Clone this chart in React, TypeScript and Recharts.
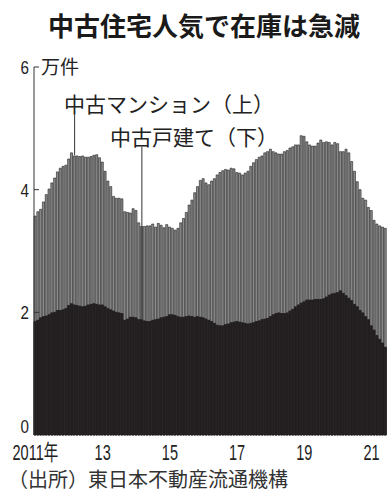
import React from 'react';
import { BarChart, Bar, XAxis, YAxis, ReferenceLine } from 'recharts';

// 首都圏の在庫件数（万件）、2011年1月〜2021年6月の月次
const startYear = 2011;
const monthCount = 126;

const mansionStock = [
  3.57, 3.64, 3.68, 3.80, 3.92, 4.01, 4.11, 4.19, 4.29, 4.35, 4.38, 4.40,
  4.50, 4.60, 4.55, 4.55, 4.54, 4.55, 4.53, 4.53, 4.54, 4.56, 4.57, 4.52,
  4.45, 4.30, 4.14, 4.05, 3.89, 3.86, 3.86, 3.85, 3.64, 3.63, 3.62, 3.69,
  3.66, 3.46, 3.40, 3.40, 3.41, 3.41, 3.44, 3.39, 3.45, 3.42, 3.38, 3.43,
  3.39, 3.37, 3.34, 3.37, 3.46, 3.53, 3.63, 3.75, 3.83, 3.95, 4.05, 4.15,
  4.18, 4.11, 4.08, 4.14, 4.18, 4.24, 4.28, 4.31, 4.33, 4.32, 4.35, 4.34,
  4.28, 4.27, 4.24, 4.27, 4.30, 4.38, 4.44, 4.49, 4.53, 4.55, 4.60, 4.62,
  4.66, 4.62, 4.60, 4.58, 4.58, 4.62, 4.64, 4.68, 4.70, 4.73, 4.73, 4.88,
  4.87, 4.78, 4.73, 4.71, 4.71, 4.76, 4.81, 4.77, 4.78, 4.77, 4.73, 4.77,
  4.75, 4.62, 4.62, 4.66, 4.60, 4.46, 4.30, 4.13, 4.00, 3.86, 3.83, 3.71,
  3.66, 3.50, 3.44, 3.41, 3.39, 3.37,
];

const houseStock = [
  1.85, 1.87, 1.91, 1.93, 1.94, 1.96, 1.99, 2.00, 2.03, 2.03, 2.04, 2.06,
  2.11, 2.14, 2.12, 2.11, 2.10, 2.09, 2.10, 2.12, 2.13, 2.14, 2.13, 2.12,
  2.12, 2.09, 2.06, 2.04, 2.02, 2.00, 1.99, 1.98, 1.87, 1.89, 1.92, 1.92,
  1.91, 1.88, 1.88, 1.86, 1.85, 1.85, 1.87, 1.88, 1.89, 1.91, 1.92, 1.93,
  1.96, 1.96, 1.95, 1.93, 1.92, 1.92, 1.93, 1.94, 1.93, 1.92, 1.93, 1.92,
  1.91, 1.89, 1.87, 1.85, 1.82, 1.79, 1.78, 1.78, 1.80, 1.81, 1.83, 1.84,
  1.85, 1.84, 1.83, 1.82, 1.81, 1.82, 1.83, 1.85, 1.86, 1.88, 1.89, 1.90,
  1.93, 1.96, 1.98, 1.99, 1.98, 1.98, 1.99, 2.02, 2.05, 2.09, 2.12, 2.15,
  2.17, 2.20, 2.20, 2.20, 2.21, 2.21, 2.21, 2.22, 2.25, 2.28, 2.30, 2.31,
  2.32, 2.35, 2.31, 2.27, 2.23, 2.19, 2.13, 2.09, 2.03, 1.99, 1.93, 1.88,
  1.78, 1.71, 1.62, 1.56, 1.50, 1.43,
];

const months: string[] = [];
for (let i = 0; i < monthCount; i++) {
  const y = startYear + Math.floor(i / 12);
  const m = (i % 12) + 1;
  months.push(`${y}-${m < 10 ? '0' + m : m}`);
}

const xTicks = ['2011-01', '2013-01', '2015-01', '2017-01', '2019-01', '2021-01'];
const xTickLabels = ['2011年', '13', '15', '17', '19', '21'];
const yTicks = [0, 2, 4, 6];

// 注記の引き出し線（月、下端、上端）
const mansionNote = { month: '2012-03', from: 4.56, to: 5.22 };
const houseNote = { month: '2014-03', from: 1.88, to: 4.70 };

const data = months.map((month, i) => ({
  month,
  mansion: mansionStock[i],
  house: houseStock[i],
}));

const XTick = (props: any) => {
  const { x, y, payload } = props;
  const label = xTickLabels[xTicks.indexOf(payload.value)];
  return (
    <g transform={`translate(${x},${y}) scale(0.66,1)`}>
      <text x={0} y={25} textAnchor="middle" fontSize={22} fill="#222"
        fontFamily="'Liberation Sans', 'Noto Sans CJK JP', sans-serif">
        {label}
      </text>
    </g>
  );
};

const YTick = (props: any) => {
  const { x, y, payload } = props;
  const v = payload.value;
  return (
    <g>
      {v !== 0 && <line x1={x} x2={x + 5} y1={y} y2={y} stroke="#333" strokeWidth={1} />}
      <g transform={`translate(${x - 5},${v === 0 ? y - 2 : y + 7}) scale(0.8,1)`}>
        <text x={0} y={0} textAnchor="end" fontSize={19} fill="#222"
          fontFamily="'Liberation Sans', sans-serif">
          {v}
        </text>
      </g>
      {v === 6 && (
        <text x={x + 7} y={y + 7} fontSize={19} fill="#222" fontFamily="'Noto Sans CJK JP', sans-serif">
          万件
        </text>
      )}
    </g>
  );
};

const jp = "'Noto Sans CJK JP', sans-serif";

export default function App() {
  return (
    <div style={{ position: 'absolute', left: 0, top: 0, width: 387, height: 495, background: '#fff', fontFamily: jp, color: '#222' }}>
      <div style={{ position: 'absolute', left: 48, top: 12, fontSize: 26, fontWeight: 700, lineHeight: 1, whiteSpace: 'nowrap', color: '#1a1a1a' }}>
        中古住宅人気で在庫は急減
      </div>

      <BarChart width={387} height={495} data={data} margin={{ top: 67, right: 0, bottom: 0, left: 0 }}>
        <XAxis xAxisId="a" dataKey="month" ticks={xTicks} interval={0} tick={<XTick />}
          tickLine={false} axisLine={false} tickSize={0} tickMargin={0} height={60} />
        <XAxis xAxisId="b" dataKey="month" hide />
        <YAxis domain={[0, 6]} ticks={yTicks} tick={<YTick />} tickLine={false}
          tickSize={0} tickMargin={0} width={34} axisLine={{ stroke: '#333', strokeWidth: 1 }} />
        <Bar xAxisId="a" dataKey="mansion" fill="#8c8c8c" stroke="#1e1e1e" strokeWidth={0.6}
          barSize={2.1} isAnimationActive={false} />
        <Bar xAxisId="b" dataKey="house" fill="#231f20" stroke="#231f20" strokeWidth={1}
          barSize={2.1} isAnimationActive={false} />
        <ReferenceLine xAxisId="a" stroke="#333" strokeWidth={1}
          segment={[{ x: mansionNote.month, y: mansionNote.from }, { x: mansionNote.month, y: mansionNote.to }]} />
        <ReferenceLine xAxisId="a" stroke="#333" strokeWidth={1}
          segment={[{ x: houseNote.month, y: houseNote.from }, { x: houseNote.month, y: houseNote.to }]} />
      </BarChart>

      <div style={{ position: 'absolute', left: 64, top: 93, fontSize: 21, lineHeight: 1, whiteSpace: 'nowrap' }}>
        中古マンション（上）
      </div>
      <div style={{ position: 'absolute', left: 110, top: 126, fontSize: 21, lineHeight: 1, whiteSpace: 'nowrap' }}>
        中古戸建て（下）
      </div>
      <div style={{ position: 'absolute', left: 8, top: 469, fontSize: 20, lineHeight: 1, whiteSpace: 'nowrap', color: '#333' }}>
        （出所）東日本不動産流通機構
      </div>
    </div>
  );
}
